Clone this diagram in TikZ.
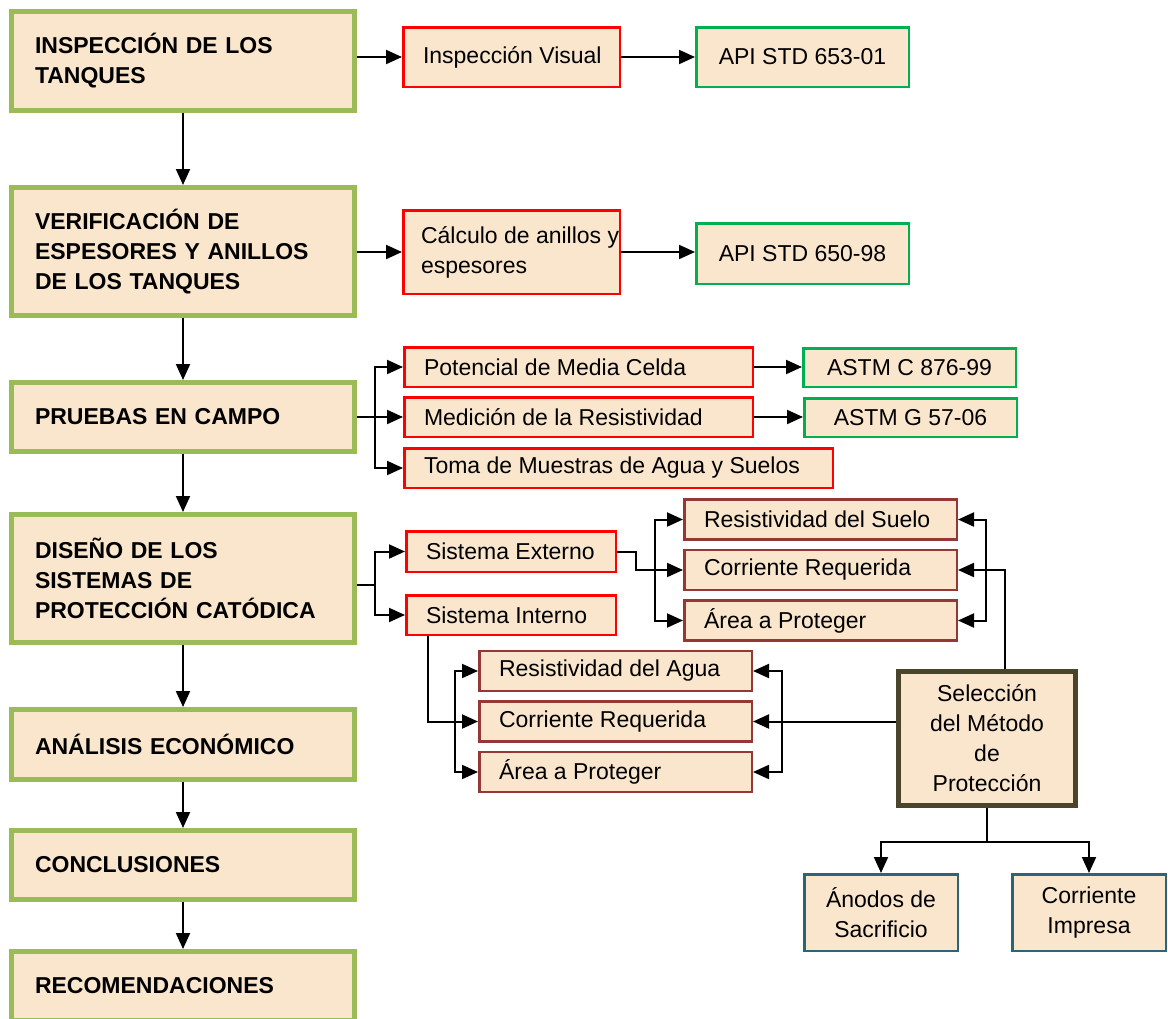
\documentclass[tikz,border=0pt]{standalone}
\usepackage{fontspec}
\setmainfont{Liberation Sans}
\usetikzlibrary{arrows.meta}
\definecolor{parch}{RGB}{250,230,204}
\definecolor{stagegreen}{RGB}{155,187,89}
\definecolor{normgreen}{RGB}{0,176,80}
\definecolor{taskred}{RGB}{255,0,0}
\definecolor{factorbrown}{RGB}{149,55,53}
\definecolor{methodgray}{RGB}{74,69,42}
\definecolor{optionteal}{RGB}{45,100,118}
\def\forkx{375}

\begin{document}
\begin{tikzpicture}[x=1pt,y=-1pt,->,>={Triangle[length=16pt,width=14pt]},line width=2pt,
  font=\fontsize{23}{30}\selectfont]
\tikzstyle{stage}=[draw=stagegreen,line width=5pt,fill=parch,minimum width=343pt,text width=296pt,
  inner xsep=23.5pt,inner ysep=0pt,align=left,font=\fontsize{23}{30}\selectfont\bfseries]
\tikzstyle{box}=[line width=2.5pt,fill=parch,inner sep=0pt]
\tikzstyle{task}=[box,draw=taskred]
\tikzstyle{norm}=[box,draw=normgreen]
\tikzstyle{factor}=[box,draw=factorbrown]
\tikzstyle{method}=[box,draw=methodgray,line width=5pt,align=center]
\tikzstyle{option}=[box,draw=optionteal,align=center]
\tikzstyle{inside}=[anchor=west,xshift=20pt,inner sep=0pt,align=left]

\useasboundingbox (0,0) rectangle (1168,1018);

% Draw the stages on the left
\node[stage,minimum height=99pt] (B1) at (183,61) {INSPECCIÓN DE LOS\\TANQUES};
\node[stage,minimum height=128pt] (B2) at (183,251.5) {VERIFICACIÓN DE\\ESPESORES Y ANILLOS\\DE LOS TANQUES};
\node[stage,minimum height=69pt] (B3) at (183,417) {PRUEBAS EN CAMPO};
\node[stage,minimum height=128pt] (B4) at (183,578.5) {DISEÑO DE LOS\\SISTEMAS DE\\PROTECCIÓN CATÓDICA};
\node[stage,minimum height=70pt] (B5) at (183,744.5) {ANÁLISIS ECONÓMICO};
\node[stage,minimum height=69pt] (B6) at (183,865) {CONCLUSIONES};
\node[stage,minimum height=69pt] (B7) at (183,986) {RECOMENDACIONES};

% Draw the tasks and the standards
\node[task,minimum width=216.5pt,minimum height=59.5pt,label={[inside]west:Inspección Visual}] (insp) at (511.5,57) {};
\node[norm,minimum width=212.5pt,minimum height=59.5pt] (api1) at (802.5,57) {API STD 653-01};
\node[task,minimum width=216.5pt,minimum height=83.5pt,label={[inside,xshift=-2pt]west:Cálculo de anillos y\\espesores}] (calc) at (511.5,252) {};
\node[norm,minimum width=212.5pt,minimum height=60.5pt] (api2) at (802.5,253.5) {API STD 650-98};
\node[task,minimum width=348.5pt,minimum height=39.5pt,label={[inside]west:Potencial de Media Celda}] (pot) at (578.5,367) {};
\node[task,minimum width=348.5pt,minimum height=39.5pt,label={[inside]west:Medición de la Resistividad}] (med) at (578.5,417) {};
\node[task,minimum width=428.5pt,minimum height=39.5pt,label={[inside]west:Toma de Muestras de Agua y Suelos}] (toma) at (618.5,468) {};
\node[norm,minimum width=212.5pt,minimum height=38.5pt] (astmC) at (909.5,367.5) {ASTM C 876-99};
\node[norm,minimum width=212.5pt,minimum height=38.5pt] (astmG) at (910.5,417.5) {ASTM G 57-06};
\node[task,minimum width=209.5pt,minimum height=40.5pt,label={[inside]west:Sistema Externo}] (ext) at (511,551.5) {};
\node[task,minimum width=209.5pt,minimum height=39.5pt,label={[inside]west:Sistema Interno}] (int) at (511,615) {};

% Draw the design factors
\node[factor,minimum width=272.5pt,minimum height=40pt,label={[inside]west:Resistividad del Suelo}] (resS) at (820.5,519.5) {};
\node[factor,minimum width=272.5pt,minimum height=40pt,label={[inside]west:Corriente Requerida}] (corrS) at (820.5,570) {};
\node[factor,minimum width=272.5pt,minimum height=40pt,label={[inside]west:Área a Proteger}] (areaS) at (820.5,620.5) {};
\node[factor,minimum width=272.5pt,minimum height=40pt,label={[inside]west:Resistividad del Agua}] (resA) at (615.5,671) {};
\node[factor,minimum width=272.5pt,minimum height=40pt,label={[inside]west:Corriente Requerida}] (corrA) at (615.5,721.5) {};
\node[factor,minimum width=272.5pt,minimum height=40pt,label={[inside]west:Área a Proteger}] (areaA) at (615.5,772) {};

% Draw the selection of the method
\node[method,minimum width=177pt,minimum height=134pt] (sel) at (987,738.5) {Selección\\del Método\\de\\Protección};
\node[option,minimum width=153.5pt,minimum height=76.5pt] (anod) at (881,912.5) {Ánodos de\\Sacrificio};
\node[option,minimum width=153.5pt,minimum height=76.5pt] (imp) at (1089,912.5) {Corriente\\Impresa};

% Connect the stages
\foreach \a/\b in {B1/B2,B2/B3,B3/B4,B4/B5,B5/B6,B6/B7}
\draw (\a.south) -- (\b.north);

% Connect the stages with their tasks
\draw (B1.east |- insp.west) -- (insp.west);
\draw (insp.east) -- (api1.west);
\draw (B2.east |- calc.west) -- (calc.west);
\draw (calc.east) -- (calc.east -| api2.west);

\coordinate (s3) at (\forkx,417);
\draw[-] (B3.east) -- (s3);
\draw (s3) |- (pot.west);
\draw (s3) -- (med.west);
\draw (s3) |- (toma.west);
\draw (pot.east) -- (pot.east -| astmC.west);
\draw (med.east) -- (med.east -| astmG.west);

\coordinate (s4) at (\forkx,585);
\draw[-] (B4.east |- s4) -- (s4);
\draw (s4) |- (ext.west);
\draw (s4) |- (int.west);

% External system and its factors
\draw (ext.east) -- ++(19,0) |- (corrS.west);
\coordinate (bS) at (655,570);
\draw (bS) |- (resS.west);
\draw (bS) |- (areaS.west);
\coordinate (rS) at (986,570);
\draw (rS) |- (resS.east);
\draw (rS) |- (areaS.east);
\draw ([xshift=18pt]sel.north) |- (corrS.east);

% Internal system and its factors
\draw ([xshift=-83pt]int.south) |- (corrA.west);
\coordinate (bA) at (455,721.5);
\draw (bA) |- (resA.west);
\draw (bA) |- (areaA.west);
\coordinate (rA) at (782,721.5);
\draw (rA) |- (resA.east);
\draw (rA) |- (areaA.east);
\draw (sel.west |- corrA.east) -- (corrA.east);

% Protection methods
\path (sel.south) ++(0,34) coordinate (fork);
\draw[-] (sel.south) -- (fork);
\draw (fork) -| (anod.north);
\draw (fork) -| (imp.north);
\end{tikzpicture}
\end{document}
